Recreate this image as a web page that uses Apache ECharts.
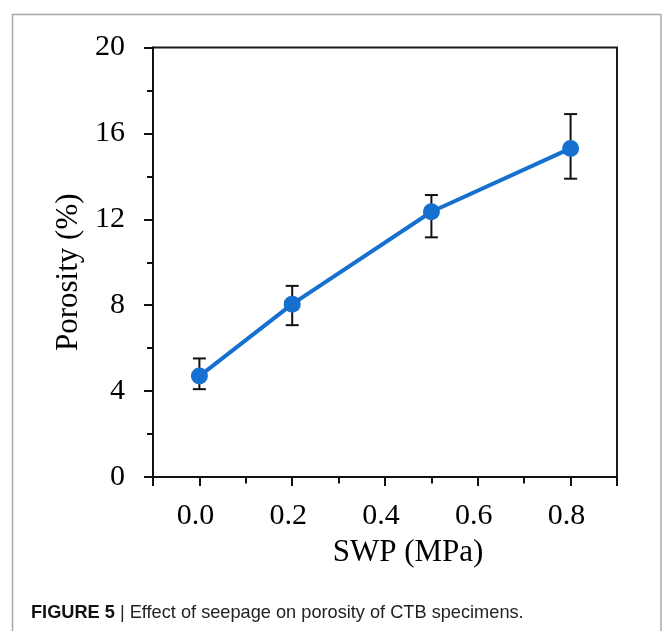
<!DOCTYPE html>
<html>
<head>
<meta charset="utf-8">
<script src="https://cdn.jsdelivr.net/npm/echarts@6/dist/echarts.min.js"></script>
<style>html,body{margin:0;padding:0;background:#fff;}#c{width:663px;height:631px;}</style>
</head>
<body>
<div id="c"></div>
<script>
// Data
const swp = [0.0, 0.2, 0.5, 0.8];
const porosity = [4.7, 8.05, 12.35, 15.3];
const errHigh = [5.52, 8.9, 13.13, 16.9];
const errLow = [4.09, 7.07, 11.16, 13.89];
const xLabelValues = [0.0, 0.2, 0.4, 0.6, 0.8];
const xMajorTicks = [-0.1, 0.0, 0.2, 0.4, 0.6, 0.8, 0.9];
const xMinorTicks = [0.1, 0.3, 0.5, 0.7];
const yTicks = [0, 4, 8, 12, 16, 20];
const xName = 'SWP (MPa)';
const yName = 'Porosity (%)';
const captionBold = 'FIGURE 5';
const captionRest = ' | Effect of seepage on porosity of CTB specimens.';

const serif = '"Liberation Serif", "Times New Roman", serif';
const blue = '#1670d0';

const chart = echarts.init(document.getElementById('c'), null, {renderer: 'canvas'});
const lineData = swp.map((x, i) => [x, porosity[i]]);
const errData = swp.map((x, i) => [x, errLow[i], errHigh[i]]);

chart.setOption({
  animation: false,
  backgroundColor: '#fff',
  grid: {
    left: 153, right: 46, top: 47.5, bottom: 154,
    show: true, borderColor: '#1a1a1a', borderWidth: 2, backgroundColor: 'transparent'
  },
  xAxis: [{
    type: 'value', min: -0.1, max: 0.9,
    name: xName, nameLocation: 'middle', nameGap: 60,
    nameTextStyle: {fontFamily: serif, fontSize: 31, color: '#000', padding: [0, 0, 0, 46]},
    axisLine: {onZero: false, lineStyle: {color: '#111', width: 2}},
    axisTick: {show: true, inside: false, length: 9, lineStyle: {color: '#111', width: 2}, customValues: xMajorTicks},
    axisLabel: {
      customValues: xLabelValues,
      margin: 24, fontFamily: serif, fontSize: 30, color: '#000',
      padding: [0, 8, 0, 0],
      formatter: v => Number(v).toFixed(1)
    },
    splitLine: {show: false}
  }, {
    type: 'value', min: -0.1, max: 0.9, position: 'bottom',
    axisLine: {show: false, onZero: false},
    axisTick: {show: true, inside: false, length: 6.5, lineStyle: {color: '#111', width: 2}, customValues: xMinorTicks},
    axisLabel: {show: false},
    splitLine: {show: false}
  }],
  yAxis: {
    type: 'value', min: 0, max: 20, interval: 4,
    name: yName, nameLocation: 'middle', nameGap: 66, nameRotate: 90,
    nameTextStyle: {fontFamily: serif, fontSize: 31, color: '#000', padding: [0, 20, 0, 0]},
    axisLine: {show: true, onZero: false, lineStyle: {color: '#111', width: 2}},
    axisTick: {show: true, inside: false, length: 9, lineStyle: {color: '#111', width: 2}},
    minorTick: {show: true, splitNumber: 2, length: 6, lineStyle: {color: '#111', width: 2}},
    axisLabel: {
      customValues: yTicks,
      margin: 28, fontFamily: serif, fontSize: 30, color: '#000'
    },
    splitLine: {show: false},
    minorSplitLine: {show: false}
  },
  series: [{
    type: 'custom',
    xAxisIndex: 0,
    z: 2,
    data: errData,
    renderItem: function (params, api) {
      const x = api.value(0);
      const lo = api.coord([x, api.value(1)]);
      const hi = api.coord([x, api.value(2)]);
      const hw = 6.5;
      const style = {stroke: '#111', lineWidth: 2};
      return {
        type: 'group',
        children: [
          {type: 'line', shape: {x1: lo[0], y1: lo[1], x2: hi[0], y2: hi[1]}, style: style},
          {type: 'line', shape: {x1: hi[0] - hw, y1: hi[1], x2: hi[0] + hw, y2: hi[1]}, style: style},
          {type: 'line', shape: {x1: lo[0] - hw, y1: lo[1], x2: lo[0] + hw, y2: lo[1]}, style: style}
        ]
      };
    }
  }, {
    type: 'line',
    xAxisIndex: 0,
    z: 3,
    data: lineData,
    symbol: 'circle',
    symbolSize: 17,
    itemStyle: {color: blue},
    lineStyle: {color: blue, width: 4}
  }],
  graphic: [{
    type: 'polyline',
    shape: {points: [[12.5, 631], [12.5, 14.5], [661, 14.5], [661, 631]]},
    style: {stroke: '#a8a8a8', lineWidth: 1.5, fill: null},
    silent: true
  }, {
    type: 'text',
    left: 31, top: 604,
    style: {
      text: '{b|' + captionBold + '}{r|' + captionRest + '}',
      rich: {
        b: {fontFamily: '"Liberation Sans", Arial, sans-serif', fontSize: 18.2, fontWeight: 'bold', fill: '#111'},
        r: {fontFamily: '"Liberation Sans", Arial, sans-serif', fontSize: 18.2, fill: '#222'}
      }
    }
  }]
});
</script>
</body>
</html>
